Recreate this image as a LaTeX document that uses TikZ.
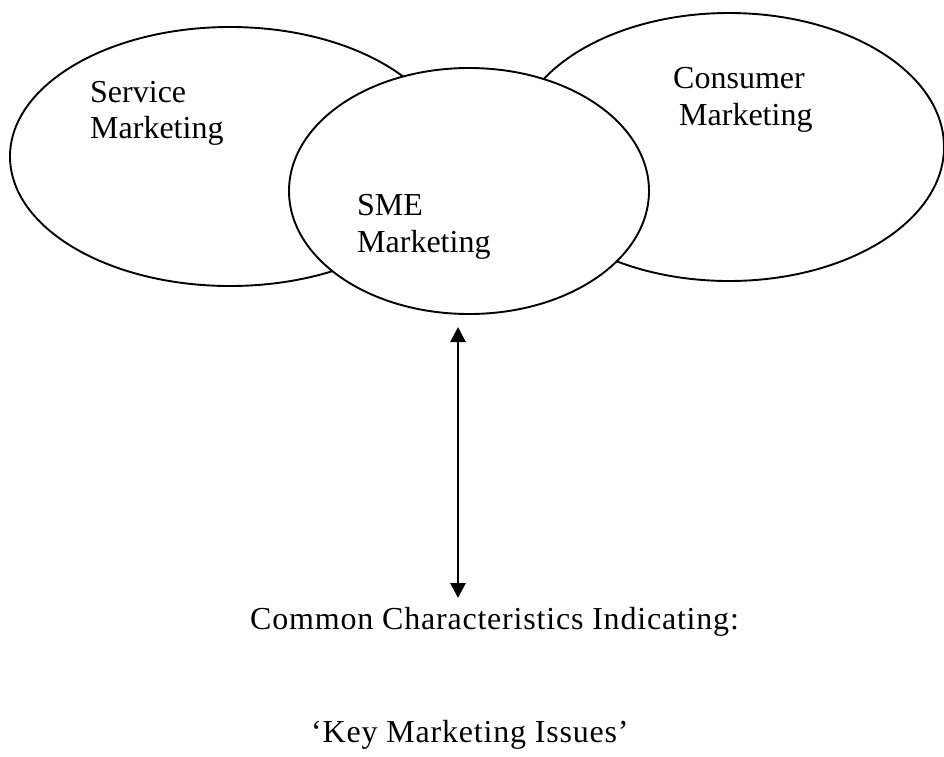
\documentclass[tikz,border=0pt]{standalone}
\usepackage{fontspec}
\setmainfont{Liberation Serif}
\newfontfamily\spacedserif[LetterSpace=2.5]{Liberation Serif}
\usetikzlibrary{shapes.geometric,arrows.meta}
\begin{document}
\begin{tikzpicture}[x=1pt,y=-1pt,
  bubble/.style={ellipse,draw=black,line width=1.9pt,fill=white,inner sep=0pt},
  label/.style={anchor=base west,inner sep=0pt,font=\fontsize{32}{36}\selectfont},
  caption/.style={anchor=base west,inner sep=0pt,font=\fontsize{32}{36}\spacedserif},
  link/.style={line width=2.8pt,{Triangle[width=15pt,length=15pt]}-{Triangle[width=15pt,length=15pt]}}]
  \useasboundingbox (0,0) rectangle (944,756);
  % outer fields
  \node[bubble,minimum width=440pt,minimum height=259pt] (service) at (230,156.5) {};
  \node[bubble,minimum width=430pt,minimum height=268pt] (consumer) at (729,147) {};
  % overlapping centre field
  \node[bubble,minimum width=360pt,minimum height=246pt] (sme) at (469,191) {};
  % labels
  \node[label] (svcA) at (90,102) {Service};
  \node[label] (svcB) at (90,138) {Marketing};
  \node[label] (conA) at (673,88) {Consumer};
  \node[label] (conB) at (679,125) {Marketing};
  \node[label] (smeA) at (357,215) {SME};
  \node[label] (smeB) at (357,252) {Marketing};
  \node[caption] (common) at (250,629) {Common Characteristics Indicating:};
  \node[caption] (issues) at (311,742) {‘Key Marketing Issues’};
  % connector
  \coordinate (top) at (458,327);
  \coordinate (bottom) at (458,598);
  \draw[link] (top) -- (bottom);
\end{tikzpicture}
\end{document}
